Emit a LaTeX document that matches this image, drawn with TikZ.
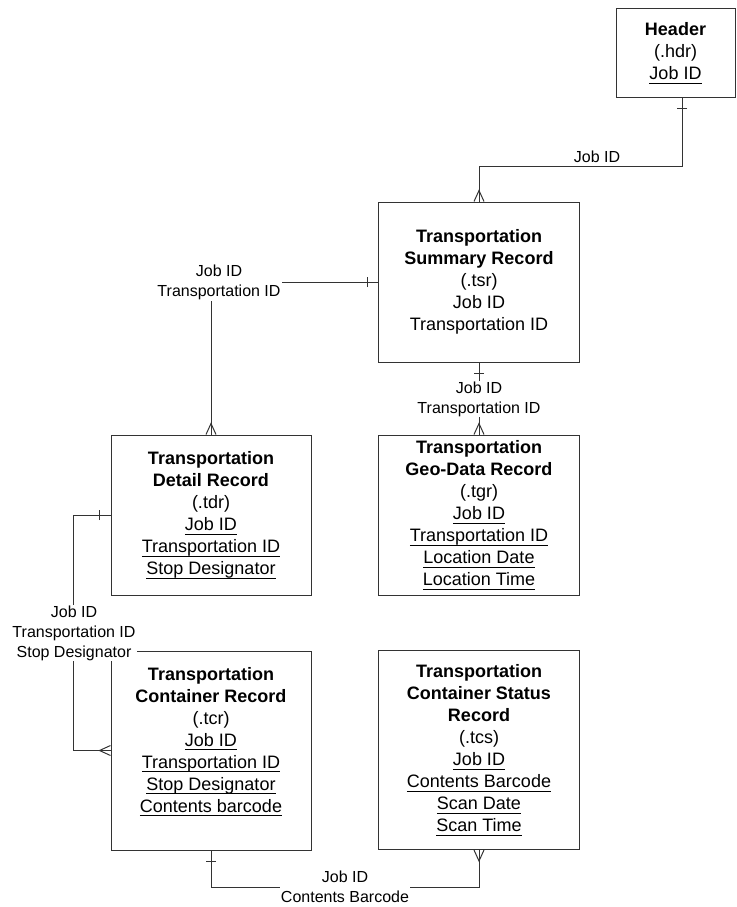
\documentclass[tikz,border=0pt]{standalone}
\usepackage{fontspec}
\setmainfont{Liberation Sans}
\usepackage{tikz}
\usetikzlibrary{calc}

% underlined key field
\newcommand{\keyfield}[1]{\leavevmode\setbox0\hbox{#1}\rlap{\rule[-4pt]{\wd0}{1pt}}\box0}

\tikzset{
  entity/.style={draw=black!80, line width=1pt, minimum width=201pt, minimum height=160pt,
    align=center, font=\fontsize{18}{22}\selectfont, inner sep=2pt},
  rellabel/.style={fill=white, align=center, font=\fontsize{16}{20}\selectfont, inner sep=1pt},
  rel/.style={draw=black!80, line width=1pt},
  crowfoot/.pic={\draw[rel] (-5,0) -- (0,-11) -- (5,0);},
  onemark/.pic={\draw[rel] (-5,-11) -- (5,-11);}
}

\begin{document}
\begin{tikzpicture}[x=1pt, y=-1pt]
    % Page frame
    \useasboundingbox (0,0) rectangle (736,907);

    % Record boxes
    \node[entity, minimum width=119pt, minimum height=88pt] (hdr) at (675.5,53)
        {\textbf{Header}\\(.hdr)\\\keyfield{Job ID}};
    \node[entity] (tsr) at (479,282)
        {\textbf{Transportation}\\\textbf{Summary Record}\\(.tsr)\\Job ID\\Transportation ID};
    \node[entity] (tgr) at (479,515)
        {\textbf{Transportation}\\\textbf{Geo-Data Record}\\(.tgr)\\\keyfield{Job ID}\\
         \keyfield{Transportation ID}\\\keyfield{Location Date}\\\keyfield{Location Time}};
    \node[entity, minimum width=200pt] (tdr) at (211,515)
        {\textbf{Transportation}\\\textbf{Detail Record}\\(.tdr)\\\keyfield{Job ID}\\
         \keyfield{Transportation ID}\\\keyfield{Stop Designator}};
    \node[entity, minimum width=200pt, minimum height=199pt] (tcr) at (211,750.5)
        {\textbf{Transportation}\\\textbf{Container Record}\\(.tcr)\\\keyfield{Job ID}\\
         \keyfield{Transportation ID}\\\keyfield{Stop Designator}\\\keyfield{Contents barcode}\\\mbox{}};
    \node[entity, minimum height=199pt] (tcs) at (479,750)
        {\textbf{Transportation}\\\textbf{Container Status}\\\textbf{Record}\\(.tcs)\\\keyfield{Job ID}\\
         \keyfield{Contents Barcode}\\\keyfield{Scan Date}\\\keyfield{Scan Time}};

    % Header to summary
    \draw[rel] ([xshift=6.5pt]hdr.south) -- ++(0,69) -| (tsr.north);
    \pic[rotate=180] at ([xshift=6.5pt]hdr.south) {onemark};
    \pic at (tsr.north) {crowfoot};

    % Summary to detail
    \draw[rel] (tsr.west) -| (tdr.north);
    \pic[rotate=90] at (tsr.west) {onemark};
    \pic at (tdr.north) {crowfoot};

    % Summary to geo-data
    \draw[rel] (tsr.south) -- (tgr.north);
    \pic[rotate=180] at (tsr.south) {onemark};
    \pic at (tgr.north) {crowfoot};

    % Detail to container
    \draw[rel] (tdr.west) -- ++(-37,0) |- (tcr.west);
    \pic[rotate=90] at (tdr.west) {onemark};
    \pic[rotate=90] at (tcr.west) {crowfoot};

    % Container to status
    \draw[rel] (tcr.south) -- ++(0,37) -| (tcs.south);
    \pic[rotate=180] at (tcr.south) {onemark};
    \pic[rotate=180] at (tcs.south) {crowfoot};

    % Key labels
    \node[rellabel, fill=none] (lblhdr) at (597,157) {Job ID};
    \node[rellabel] (lbltdr) at (219,282.5) {Job ID\\Transportation ID};
    \node[rellabel] (lbltgr) at (479,399) {Job ID\\Transportation ID};
    \node[rellabel] (lbltcr) at (74,633) {Job ID\\Transportation ID\\Stop Designator};
    \node[rellabel] (lbltcs) at (345,887) {Job ID\\Contents Barcode};
\end{tikzpicture}
\end{document}
